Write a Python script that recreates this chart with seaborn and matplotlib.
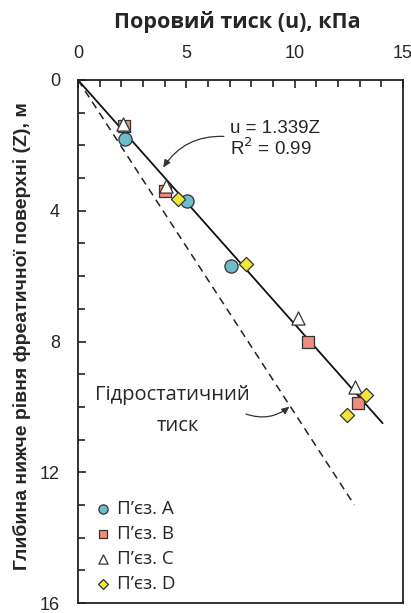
import matplotlib
matplotlib.use("Agg")
import matplotlib.pyplot as plt
import seaborn as sns
import numpy as np
import pandas as pd

# data (u in kPa, Z in m)
a_u = [2.17, 5.05, 7.06]
a_z = [1.80, 3.69, 5.68]
b_u = [2.10, 4.00, 10.63, 12.91]
b_z = [1.40, 3.39, 8.00, 9.87]
c_u = [2.09, 4.06, 10.17, 12.78]
c_z = [1.35, 3.24, 7.29, 9.40]
d_u = [4.60, 7.77, 13.29, 12.40]
d_z = [3.64, 5.62, 9.63, 10.24]

fit_slope = 1.339
fit_z = [0, 10.5]
hydro_slope = 0.981
hydro_z = [0, 13.0]

labels = ["П’єз. A", "П’єз. B", "П’єз. C", "П’єз. D"]

sns.set_style("ticks")
plt.rcParams['font.family'] = ['Liberation Sans', 'DejaVu Sans']
myriad = ["Open Sans", "DejaVu Sans"]

fig = plt.figure(figsize=(4.11, 6.13), dpi=100)
ax = fig.add_axes([78/411, 1-603/613, 325/411, 523/613])

ec = "#333333"
series = [
    (a_u, a_z, "o", "#6fbccb", labels[0]),
    (b_u, b_z, "s", "#f08c80", labels[1]),
    (c_u, c_z, "^", "white", labels[2]),
    (d_u, d_z, "D", "#f2e63a", labels[3]),
]

# lines
fit_df = pd.DataFrame({"z": fit_z, "u": [fit_slope*z for z in fit_z]})
hyd_df = pd.DataFrame({"z": hydro_z, "u": [hydro_slope*z for z in hydro_z]})
ax.plot(fit_df["u"], fit_df["z"], color="#111111", lw=1.3, zorder=2)
ax.plot(hyd_df["u"], hyd_df["z"], color="#222222", lw=1.1, ls=(0, (5, 3.5)), zorder=2)

sizes = {"o": 90, "s": 75, "^": 90, "D": 52}
for u, z, m, col, lab in series:
    sns.scatterplot(x=u, y=z, marker=m, color=col, edgecolor=ec, linewidth=0.9,
                    s=sizes[m], ax=ax, label=lab, zorder=3)

ax.set_xlim(0, 15)
ax.set_ylim(16, 0)
ax.xaxis.tick_top()
ax.set_xticks([0, 5, 10, 15])
ax.set_xticks(np.arange(0, 16, 1), minor=True)
ax.set_yticks([0, 4, 8, 12, 16])
ax.set_yticks(np.arange(0, 17, 1), minor=True)
ax.tick_params(axis="both", which="both", direction="in", labelsize=13,
               top=True, bottom=False, left=True, right=False, width=1.2, color="#222222")
ax.tick_params(axis="both", which="major", length=6, pad=13)
ax.tick_params(axis="both", which="minor", length=5)
for sp in ax.spines.values():
    sp.set_linewidth(1.3)
    sp.set_color("#222222")
    sp.set_visible(True)

ax.set_xlabel("")
ax.set_ylabel("Глибина нижче рівня фреатичної поверхні (Z), м",
              fontsize=14, fontweight="bold")
ax.yaxis.set_label_coords(-0.145, 0.51)
fig.text(237/411, 1-22/613, "Поровий тиск (u), кПа", ha="center", va="center",
         fontsize=15.5, fontweight="bold", family=myriad)

# annotations
ax.text(7.0, 1.47, "u = 1.339Z", fontsize=13.5, va="center", ha="left")
ax.text(7.0, 2.08, "R$^2$ = 0.99", fontsize=13.5, va="center", ha="left")
ax.annotate("", xy=(3.86, 2.75), xytext=(6.86, 1.73),
            arrowprops=dict(arrowstyle="-|>,head_length=0.45,head_width=0.2",
                            color="#333333", lw=0.9,
                            connectionstyle="arc3,rad=0.3"))
ax.text(4.34, 9.63, "Гідростатичний", fontsize=14.5, ha="center", va="center",
        family=myriad)
ax.text(4.6, 10.6, "тиск", fontsize=14.5, ha="center", va="center",
        family=myriad)
ax.annotate("", xy=(9.86, 9.94), xytext=(7.63, 10.19),
            arrowprops=dict(arrowstyle="-|>,head_length=0.45,head_width=0.2",
                            color="#333333", lw=0.9,
                            connectionstyle="arc3,rad=0.3"))

leg = ax.legend(loc="lower left", bbox_to_anchor=(0.008, 0.002), frameon=False,
                markerscale=0.7, handletextpad=0.05, labelspacing=0.36,
                borderpad=0.0, handlelength=1.4,
                prop={"family": myriad, "size": 13.5})

fig.savefig("out.png", dpi=100)
